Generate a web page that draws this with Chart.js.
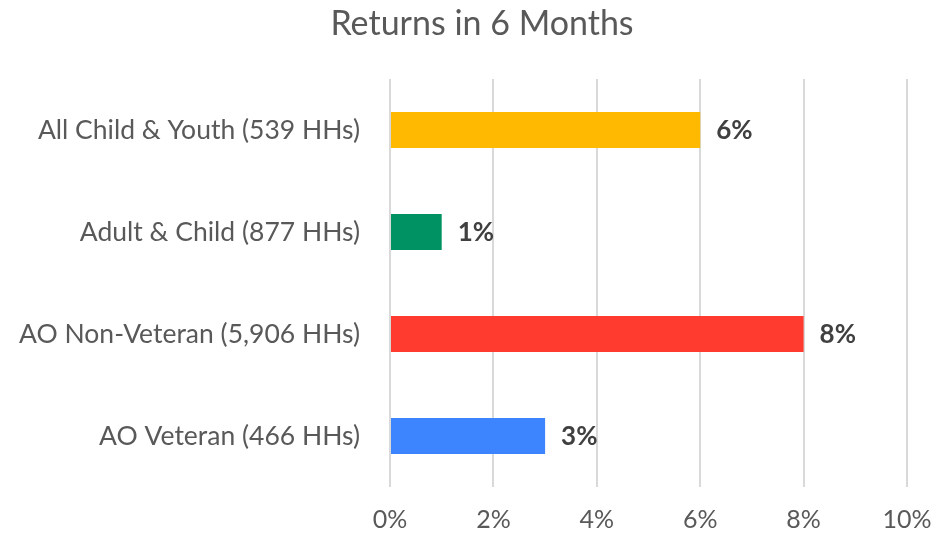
<!DOCTYPE html>
<html>
<head>
<meta charset="utf-8">
<script src="https://cdn.jsdelivr.net/npm/chart.js@4"></script>
<style>
  html, body { margin: 0; padding: 0; background: #fff; }
  #wrap { width: 941px; height: 534px; }
</style>
</head>
<body>
<div id="wrap"><canvas id="myChart" width="941" height="534"></canvas></div>
<script>
var chartTitle = 'Returns in 6 Months';
var categories = ['All Child & Youth (539 HHs)', 'Adult & Child (877 HHs)', 'AO Non-Veteran (5,906 HHs)', 'AO Veteran (466 HHs)'];
var values = [6, 1, 8, 3];
var barColors = ['#FFB900', '#009262', '#FF3B30', '#3D85FF'];
var xTicks = [0, 2, 4, 6, 8, 10];

var fontFamily = 'Lato, "Open Sans", sans-serif';

// title drawn by hand so it can sit off-centre like the original
var titlePlugin = {
    id: 'titlePlugin',
    afterDraw: function(chart) {
        var ctx = chart.ctx;
        ctx.save();
        ctx.font = '34px ' + fontFamily;
        ctx.fillStyle = '#595959';
        ctx.textAlign = 'center';
        ctx.textBaseline = 'middle';
        ctx.fillText(chartTitle, 482, 24);
        ctx.restore();
    }
};

// bold % label after each bar
var valueLabels = {
    id: 'valueLabels',
    afterDatasetsDraw: function(chart) {
        var ctx = chart.ctx;
        var meta = chart.getDatasetMeta(0);
        ctx.save();
        ctx.font = 'bold 26px ' + fontFamily;
        ctx.fillStyle = '#404040';
        ctx.textAlign = 'left';
        ctx.textBaseline = 'middle';
        meta.data.forEach(function(bar, i) {
            ctx.fillText(values[i] + '%', bar.x + 16, bar.y + 1);
        });
        ctx.restore();
    }
};

var ctx = document.getElementById('myChart').getContext('2d');
var myChart = new Chart(ctx, {
    type: 'bar',
    data: {
        labels: categories,
        datasets: [{
            data: values,
            backgroundColor: barColors,
            barPercentage: 0.354,
            categoryPercentage: 1.0
        }]
    },
    options: {
        indexAxis: 'y',
        responsive: false,
        animation: false,
        layout: { padding: { top: 79, right: 0, bottom: 0, left: 0 } },
        plugins: {
            legend: { display: false },
            tooltip: { enabled: false },
            title: { display: false }
        },
        scales: {
            x: {
                min: 0,
                max: 10,
                afterBuildTicks: function(axis) {
                    axis.ticks = xTicks.map(function(v) { return { value: v }; });
                },
                afterFit: function(axis) {
                    axis.height = 47;
                    axis.paddingRight = 34;
                    axis.paddingLeft = 0;
                },
                ticks: {
                    color: '#595959',
                    font: { family: fontFamily, size: 25 },
                    padding: 18,
                    callback: function(v) { return v + '%'; }
                },
                grid: { color: '#d9d9d9', lineWidth: 2, drawTicks: false },
                border: { display: false }
            },
            y: {
                afterFit: function(axis) { axis.width = 390; },
                ticks: {
                    color: '#595959',
                    font: { family: fontFamily, size: 26.5 },
                    padding: 30
                },
                grid: { display: false, drawTicks: false },
                border: { display: false }
            }
        }
    },
    plugins: [valueLabels, titlePlugin]
});
</script>
</body>
</html>
